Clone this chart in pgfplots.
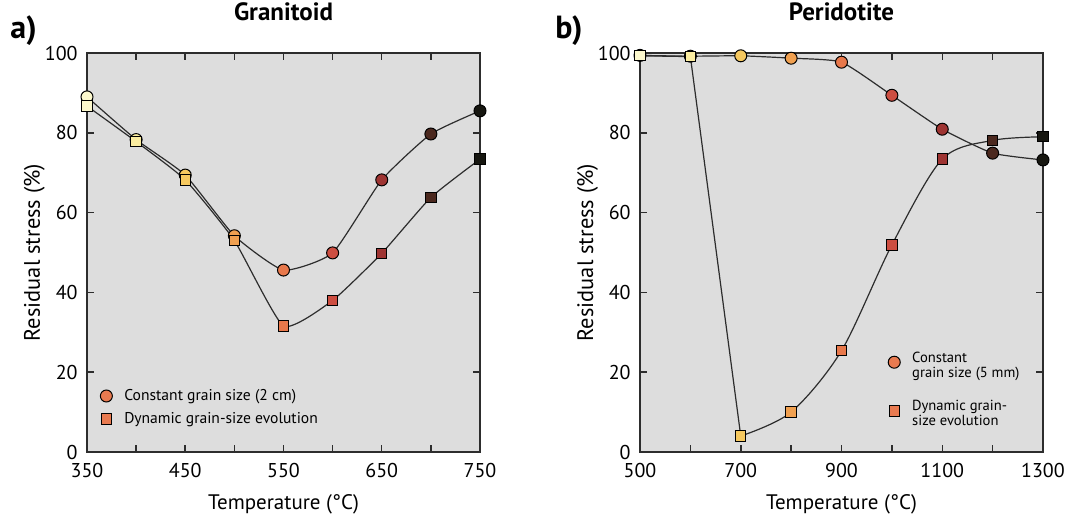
\documentclass[border=0pt]{standalone}
\usepackage{fontspec}
\setmainfont{PT Sans}
\usepackage{pgfplots}
\pgfplotsset{compat=1.18}

\definecolor{bg}{RGB}{221,221,221}
\definecolor{ax}{RGB}{45,45,45}
\definecolor{leg}{RGB}{232,122,80}

\pgfplotsset{
 colormap={temp}{rgb255=(252,248,205) rgb255=(250,236,160) rgb255=(245,200,95) rgb255=(240,160,80) rgb255=(232,120,75) rgb255=(205,78,65) rgb255=(158,52,50) rgb255=(75,40,30) rgb255=(22,22,16)},
 myax/.style={
   scale only axis, height=199.5pt, ymin=0, ymax=100, ytick={0,20,...,100},
   axis background/.style={fill=bg},
   axis line style={ax, line width=0.75pt},
   every tick/.style={ax, line width=0.75pt},
   tick align=inside, major tick length=3.5pt, minor tick length=3.5pt,
   clip=false,
   point meta min=0, point meta max=8,
   colormap name=temp,
   /pgf/number format/assume math mode=true,
   /pgf/number format/1000 sep={},
   ticklabel style={font=\fontsize{10}{12}\selectfont},
   xticklabel style={anchor=base, yshift=-12.5pt, inner sep=0pt},
   yticklabel style={anchor=east, xshift=-4.5pt, inner sep=0pt},
   xlabel style={font=\fontsize{10.5}{12}\selectfont},
   ylabel style={font=\fontsize{11.2}{12}\selectfont},
   xlabel={Temperature (°C)},
   ylabel={Residual stress (\%)},
   xlabel style={at={(axis description cs:0.5,0)}, anchor=base, yshift=-28.5pt},
   title style={font=\bfseries\fontsize{12.5}{14}\selectfont, at={(axis description cs:0.5,1)}, anchor=base, yshift=10.5pt},
   legend style={draw=none, fill=none, anchor=west, inner sep=0pt, column sep=4pt},
   legend cell align=left,
   legend image code/.code={\draw[#1] plot coordinates {(0.15cm,0cm)};},
   anchor=south west,
 },
 ln/.style={ax, line width=0.6pt, no marks},
 cm/.style={scatter, only marks, mark=*, mark size=3pt, scatter/use mapped color={draw=black, fill=mapped color}, mark options={line width=0.5pt}, point meta=\coordindex},
 sm/.style={scatter, only marks, mark=square*, mark size=2.6pt, scatter/use mapped color={draw=black, fill=mapped color}, mark options={line width=0.5pt}, point meta=\coordindex},
}

\begin{document}
\begin{tikzpicture}
\useasboundingbox (0,0) rectangle (534.5pt,257.5pt);
\node[anchor=base west, font=\bfseries\fontsize{16}{18}\selectfont, inner sep=0pt] at (5pt,238pt) {a)};
\node[anchor=base west, font=\bfseries\fontsize{16}{18}\selectfont, inner sep=0pt] at (277.5pt,238pt) {b)};

\begin{axis}[myax, at={(43.5pt,31.5pt)}, width=196.5pt,
  xmin=350, xmax=750, xtick={350,450,...,750}, minor xtick={400,500,600,700},
  title={Granitoid},
  ylabel style={at={(axis description cs:-0.1196,0.5)}, anchor=base},
  legend style={at={(axis description cs:0.033,0.1115)}, row sep=0.5pt, font=\fontsize{7.8}{8.5}\selectfont},
]
\addplot[ln, smooth, tension=0.3, forget plot] coordinates {(350,89) (400,78.3) (450,69.4) (500,54.2) (550,45.6) (600,49.9) (650,68.2) (700,79.7) (750,85.5)};
\addplot[ln, smooth, tension=0.3, forget plot] coordinates {(350,86.7) (400,77.8) (450,68.2) (500,53) (550,31.6) (600,38) (650,49.8) (700,63.8) (750,73.4)};
\addplot[cm, forget plot] coordinates {(350,89) (400,78.3) (450,69.4) (500,54.2) (550,45.6) (600,49.9) (650,68.2) (700,79.7) (750,85.5)};
\addplot[sm, forget plot] coordinates {(350,86.7) (400,77.8) (450,68.2) (500,53) (550,31.6) (600,38) (650,49.8) (700,63.8) (750,73.4)};
\addlegendimage{only marks, mark=*, mark size=3pt, mark options={draw=black, fill=leg, line width=0.5pt}}
\addlegendentry{Constant grain size (2 cm)}
\addlegendimage{only marks, mark=square*, mark size=2.6pt, mark options={draw=black, fill=leg, line width=0.5pt}}
\addlegendentry{Dynamic grain-size evolution}
\end{axis}

\begin{axis}[myax, at={(320pt,31.5pt)}, width=201.5pt,
  xmin=500, xmax=1300, xtick={500,700,...,1300}, minor xtick={600,800,1000,1200},
  title={Peridotite},
  ylabel style={at={(axis description cs:-0.1166,0.5)}, anchor=base},
  legend style={at={(axis description cs:0.615,0.164)}, row sep=9.5pt, font=\fontsize{7.3}{7.6}\selectfont},
]
\addplot[ln, smooth, tension=0.3, forget plot] coordinates {(500,99.4) (600,99.2) (700,99.3) (800,98.7) (900,97.7) (1000,89.4) (1100,80.9) (1200,74.9) (1300,73.2)};
\addplot[ln, forget plot] coordinates {(500,99.3) (600,99.1) (700,4)};
\addplot[ln, smooth, tension=0.5, forget plot] coordinates {(700,4) (800,10) (900,25.4) (1000,51.9) (1100,73.4) (1200,78.1) (1300,79)};
\addplot[cm, forget plot] coordinates {(500,99.4) (600,99.2) (700,99.3) (800,98.7) (900,97.7) (1000,89.4) (1100,80.9) (1200,74.9) (1300,73.2)};
\addplot[sm, forget plot] coordinates {(500,99.3) (600,99.1) (700,4) (800,10) (900,25.4) (1000,51.9) (1100,73.4) (1200,78.1) (1300,79)};
\addlegendimage{only marks, mark=*, mark size=3pt, mark options={draw=black, fill=leg, line width=0.5pt}}
\addlegendentry{\begin{tabular}{@{}l@{}}Constant\\grain size (5 mm)\end{tabular}}
\addlegendimage{only marks, mark=square*, mark size=2.6pt, mark options={draw=black, fill=leg, line width=0.5pt}}
\addlegendentry{\begin{tabular}{@{}l@{}}Dynamic grain-\\size evolution\end{tabular}}
\end{axis}
\end{tikzpicture}
\end{document}
